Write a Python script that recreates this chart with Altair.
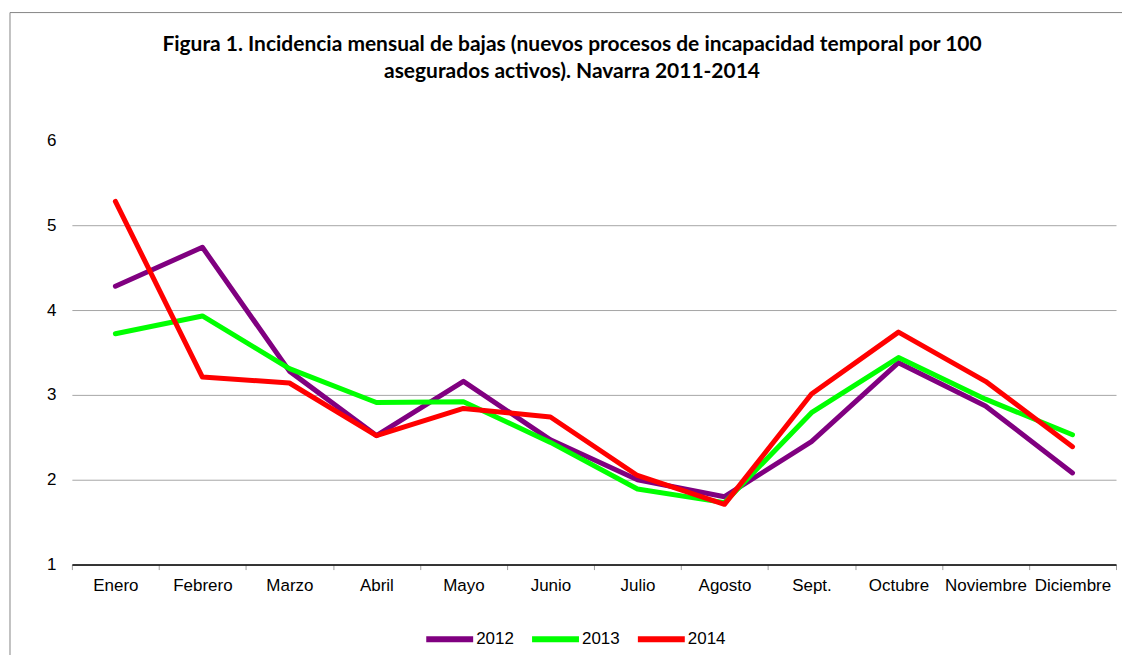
import altair as alt
import pandas as pd

months = ["Enero", "Febrero", "Marzo", "Abril", "Mayo", "Junio", "Julio",
          "Agosto", "Sept.", "Octubre", "Noviembre", "Diciembre"]
years = ["2012", "2013", "2014"]
v2012 = [4.28, 4.74, 3.28, 2.52, 3.16, 2.47, 2.00, 1.80, 2.45, 3.38, 2.87, 2.08]
v2013 = [3.72, 3.93, 3.31, 2.91, 2.92, 2.44, 1.89, 1.73, 2.79, 3.44, 2.95, 2.53]
v2014 = [5.28, 3.21, 3.14, 2.52, 2.84, 2.74, 2.05, 1.71, 3.01, 3.74, 3.16, 2.39]
colors = ["#800080", "#00ff00", "#ff0000"]
y_ticks = [1, 2, 3, 4, 5, 6]
title_lines = ["Figura 1. Incidencia mensual de bajas (nuevos procesos de incapacidad temporal por 100",
               "asegurados activos). Navarra 2011-2014"]

rows = []
for yr, vals in zip(years, [v2012, v2013, v2014]):
    for i, (m, v) in enumerate(zip(months, vals)):
        rows.append({"mes": m, "anio": yr, "valor": v, "orden": years.index(yr)})
df = pd.DataFrame(rows)

W, H = 1046, 425

border = alt.Chart(pd.DataFrame({"a": [0]})).mark_rect(
    fillOpacity=0, stroke="#868686", strokeWidth=1
).encode(
    x=alt.value(-62), x2=alt.value(1080), y=alt.value(-128), y2=alt.value(540)
)

lines = alt.Chart(df).mark_line(strokeWidth=5, strokeCap="round", strokeJoin="round").encode(
    x=alt.X("mes:N", sort=months, bandPosition=0.5,
            scale=alt.Scale(type="band", paddingInner=0, paddingOuter=0),
            axis=alt.Axis(title=None, labelAngle=0, grid=False, tickBand="extent",
                          domainColor="#000000", domainWidth=1.5,
                          tickColor="#a0a0a0", tickSize=5, tickWidth=1,
                          labelFont="Liberation Sans", labelFontSize=17,
                          labelColor="#000000", labelPadding=8)),
    y=alt.Y("valor:Q", scale=alt.Scale(domain=[1, 6], nice=False, zero=False),
            axis=alt.Axis(title=None, values=y_ticks, domain=False, ticks=False,
                          grid=True, gridColor="#a6a6a6", gridWidth=1,
                          gridOpacity=alt.condition("datum.value == 6", alt.value(0), alt.value(1)),
                          labelFont="Liberation Sans", labelFontSize=17,
                          labelColor="#000000", labelPadding=16)),
    color=alt.Color("anio:N", scale=alt.Scale(domain=years, range=colors),
                    legend=alt.Legend(title=None, orient="none", direction="horizontal",
                                      legendX=352, legendY=473, padding=0,
                                      symbolType="stroke", symbolStrokeWidth=6,
                                      symbolSize=2209, labelOffset=0, columnPadding=6,
                                      labelFont="Liberation Sans", labelFontSize=17,
                                      labelColor="#000000")),
    order=alt.Order("orden:Q"),
    detail="anio:N",
)

chart = alt.layer(border, lines).properties(
    width=W, height=H,
    autosize=alt.AutoSizeParams(type="none"),
    padding={"left": 64, "top": 132, "right": 6, "bottom": 90},
    background="white",
    title=alt.TitleParams(text=title_lines, font="Lato", fontSize=21, fontWeight="bold",
                          color="#000000", anchor="middle", dx=-22, offset=-70,
                          lineHeight=27),
).configure_view(stroke=None)

chart.save("out.html", embed_options={"renderer": "svg", "actions": False})
